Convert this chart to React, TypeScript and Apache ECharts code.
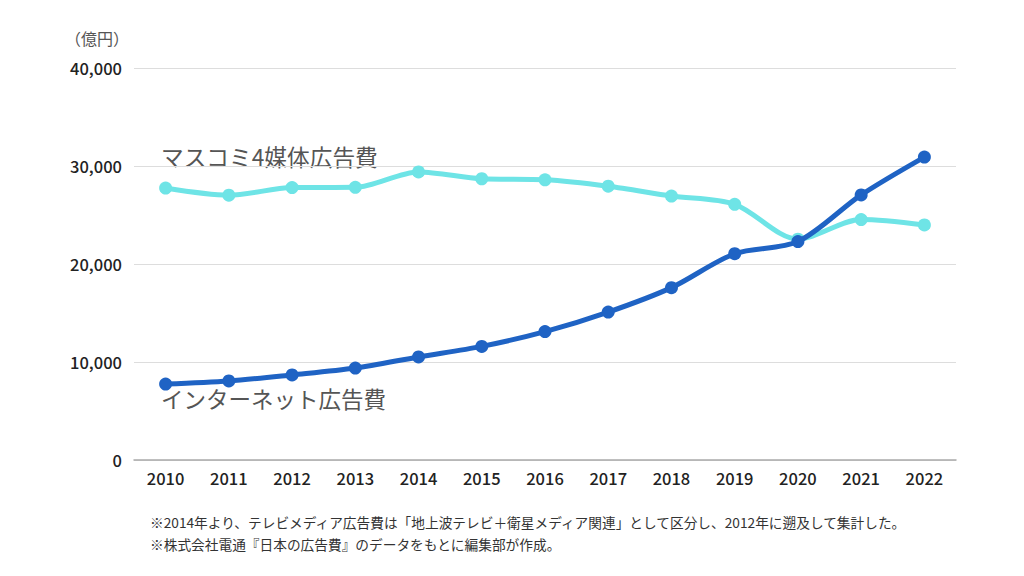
import React, { useEffect, useRef } from "react";
import * as echarts from "echarts";

const years = ["2010", "2011", "2012", "2013", "2014", "2015", "2016", "2017", "2018", "2019", "2020", "2021", "2022"];
const massMedia = [27749, 27016, 27796, 27825, 29393, 28699, 28596, 27938, 26935, 26094, 22536, 24538, 23985];
const internet = [7747, 8062, 8680, 9381, 10519, 11594, 13100, 15094, 17589, 21048, 22290, 27052, 30912];
const yTicks = [0, 10000, 20000, 30000, 40000];

const FONT = "'Noto Sans CJK JP', 'Noto Sans', sans-serif";

export default function App() {
  const ref = useRef<HTMLDivElement>(null);
  useEffect(() => {
    document.body.style.margin = "0";
    if (!ref.current) return;
    const chart = echarts.init(ref.current, null, { renderer: "svg" });
    chart.setOption({
      animation: false,
      backgroundColor: "#ffffff",
      grid: { left: 134, right: 68, top: 68, bottom: 116, containLabel: false },
      xAxis: {
        type: "category",
        data: years,
        boundaryGap: true,
        axisLine: { show: true, lineStyle: { color: "#aaaaaa", width: 1.5 } },
        axisTick: { show: false },
        axisLabel: { color: "#222222", fontSize: 16.5, fontFamily: FONT, fontWeight: 500, margin: 10 },
      },
      yAxis: {
        type: "value",
        min: yTicks[0],
        max: yTicks[yTicks.length - 1],
        interval: 10000,
        axisLine: { show: false },
        axisTick: { show: false },
        splitLine: { lineStyle: { color: "#dddddd", width: 1.2 } },
        axisLabel: {
          color: "#222222",
          fontSize: 16.5,
          fontFamily: FONT,
          fontWeight: 500,
          margin: 12,
          formatter: (v: number) => v.toLocaleString("en-US"),
        },
      },
      graphic: [
        { type: "text", left: 65, top: 30, style: { text: "（億円）", fill: "#555555", fontSize: 16, fontFamily: FONT } },
        { type: "text", left: 161, top: 145, style: { text: "マスコミ4媒体広告費", fill: "#555555", fontSize: 22.7, fontFamily: FONT } },
        { type: "text", left: 161, top: 387, style: { text: "インターネット広告費", fill: "#555555", fontSize: 22.5, fontFamily: FONT } },
        { type: "text", left: 150, top: 515, style: { text: "※2014年より、テレビメディア広告費は「地上波テレビ＋衛星メディア関連」として区分し、2012年に遡及して集計した。", fill: "#333333", fontSize: 13.7, fontFamily: FONT } },
        { type: "text", left: 150, top: 537, style: { text: "※株式会社電通『日本の広告費』のデータをもとに編集部が作成。", fill: "#333333", fontSize: 13.7, fontFamily: FONT } },
      ],
      series: [
        {
          name: "マスコミ4媒体広告費",
          type: "line",
          data: massMedia,
          smooth: 0.3,
          symbol: "circle",
          symbolSize: 13,
          lineStyle: { color: "#6ee4e6", width: 5 },
          itemStyle: { color: "#6ee4e6" },
          z: 2,
        },
        {
          name: "インターネット広告費",
          type: "line",
          data: internet,
          smooth: 0.3,
          symbol: "circle",
          symbolSize: 13,
          lineStyle: { color: "#1f63c4", width: 5 },
          itemStyle: { color: "#1f63c4" },
          z: 3,
        },
      ],
    });
    return () => chart.dispose();
  }, []);
  return <div ref={ref} style={{ width: 1024, height: 576 }} />;
}
